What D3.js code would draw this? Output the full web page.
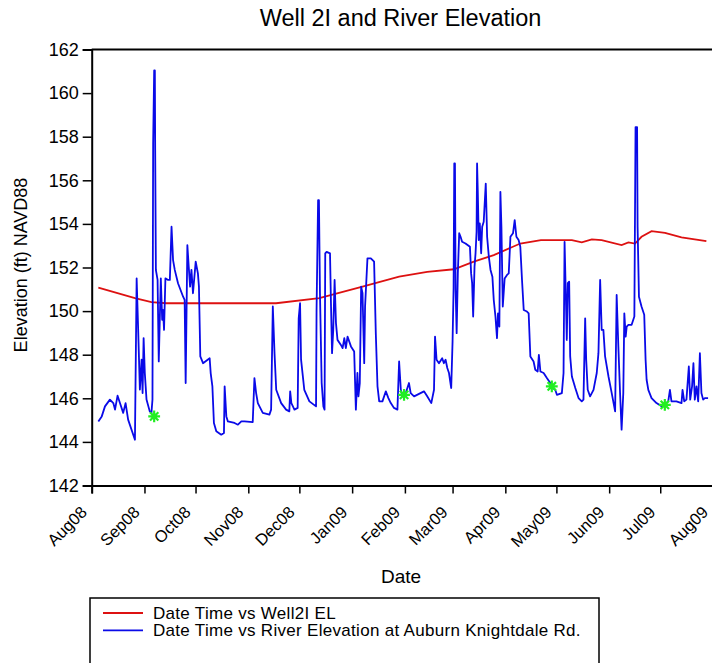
<!DOCTYPE html>
<html>
<head>
<meta charset="utf-8">
<script src="https://cdn.jsdelivr.net/npm/d3@7"></script>
<style>
  html, body { margin: 0; padding: 0; background: #fff; }
  svg { display: block; font-family: "Liberation Sans", Arial, sans-serif; }
</style>
</head>
<body>
<svg id="chart" width="712" height="663"></svg>
<script>
// ---- Data (days since 2008-08-01, elevation ft NAVD88) ----
const wellDays = [3.9, 25.4, 35.1, 43.9, 108.3, 133.7, 159.1, 180.6, 197.1, 212.8, 224.5, 236.2, 251.8, 263.9, 282.1, 287.9, 293.8, 299.6, 311.3, 315.3, 319.2, 323.0, 328.9, 336.8, 346.5, 361.1];
const wellElev = [151.08, 150.59, 150.41, 150.36, 150.36, 150.59, 151.12, 151.58, 151.80, 151.92, 152.27, 152.57, 153.10, 153.26, 153.26, 153.15, 153.29, 153.26, 153.03, 153.15, 153.10, 153.41, 153.67, 153.59, 153.38, 153.21];

const riverDays = [3.9, 5.9, 7.8, 10.7, 12.7, 13.7, 15.2, 16.6, 18.5, 19.9, 21.4, 25.4, 26.4, 27.3, 28.3, 29.3, 29.9, 30.5, 31.2, 32.2, 34.1, 35.1, 35.7, 36.1, 36.7, 37.1, 37.3, 37.7, 38.7, 39.4, 40.6, 41.4, 41.9, 42.5, 43.3, 44.9, 45.9, 46.9, 47.8, 48.8, 50.7, 53.7, 54.6, 55.2, 56.2, 57.0, 57.8, 58.6, 59.5, 61.1, 62.4, 63.0, 63.8, 65.4, 69.3, 69.9, 70.9, 71.8, 73.2, 76.1, 77.7, 78.1, 79.1, 80.0, 83.9, 85.9, 87.9, 89.8, 94.6, 95.6, 96.6, 97.6, 100.5, 104.4, 105.4, 106.4, 107.4, 108.4, 111.3, 114.2, 116.1, 116.6, 117.3, 119.1, 121.0, 121.6, 122.4, 123.0, 124.9, 127.9, 131.8, 132.1, 133.0, 133.5, 134.1, 135.1, 136.1, 136.8, 137.2, 138.0, 140.0, 140.6, 141.2, 141.9, 142.7, 143.5, 144.4, 146.4, 147.4, 148.4, 149.3, 150.3, 152.3, 154.2, 155.2, 156.1, 156.7, 157.5, 158.3, 159.1, 160.1, 160.6, 162.0, 164.0, 165.9, 166.9, 167.9, 168.9, 170.8, 172.8, 174.3, 175.7, 177.6, 179.6, 180.6, 181.6, 182.5, 184.5, 186.4, 187.4, 189.4, 195.2, 197.1, 199.5, 201.1, 201.7, 202.6, 204.0, 205.9, 206.9, 207.9, 208.9, 209.9, 211.2, 212.0, 212.6, 213.0, 213.4, 213.8, 214.4, 215.1, 215.9, 216.7, 217.6, 219.6, 222.2, 222.9, 223.5, 224.1, 224.9, 225.5, 226.1, 226.4, 226.8, 227.4, 228.0, 228.8, 229.4, 230.3, 231.5, 232.3, 233.3, 234.3, 235.4, 236.2, 237.2, 238.1, 238.7, 239.5, 240.1, 240.7, 241.5, 242.6, 244.0, 245.0, 246.0, 247.5, 248.5, 249.5, 250.8, 251.8, 252.8, 253.8, 255.7, 256.7, 257.7, 259.6, 260.6, 262.0, 262.7, 263.6, 265.5, 267.4, 269.4, 270.9, 272.3, 273.3, 276.2, 277.2, 277.8, 278.6, 279.1, 279.7, 280.5, 281.1, 282.1, 284.1, 286.0, 287.9, 288.9, 289.9, 290.5, 291.4, 292.8, 294.8, 296.7, 297.7, 298.7, 299.6, 300.6, 301.6, 303.6, 305.5, 307.5, 308.4, 309.4, 310.4, 311.3, 312.3, 312.9, 313.7, 314.3, 315.3, 317.2, 318.8, 319.5, 320.4, 320.7, 321.5, 323.0, 324.6, 325.4, 326.0, 327.0, 328.9, 331.8, 334.8, 338.7, 339.7, 340.6, 343.5, 346.5, 347.1, 348.1, 349.4, 350.8, 351.6, 352.7, 353.5, 354.3, 355.3, 356.3, 357.3, 358.2, 359.2, 360.2, 362.1];
const riverElev = [144.94, 145.17, 145.63, 145.94, 145.78, 145.48, 146.12, 145.78, 145.33, 145.78, 145.02, 144.10, 151.50, 149.14, 146.40, 147.77, 146.24, 148.76, 147.16, 145.94, 145.40, 145.33, 145.94, 157.68, 161.04, 161.04, 157.38, 151.89, 151.43, 147.69, 151.50, 149.60, 150.05, 149.14, 151.50, 151.43, 151.43, 153.87, 152.34, 151.89, 151.28, 150.66, 150.51, 146.70, 153.03, 152.04, 151.12, 151.89, 150.82, 152.27, 151.73, 151.12, 147.92, 147.61, 147.84, 147.16, 146.55, 144.87, 144.49, 144.33, 144.41, 146.55, 145.17, 144.94, 144.87, 144.79, 144.94, 144.94, 144.91, 146.93, 146.24, 145.78, 145.33, 145.25, 145.48, 150.21, 148.07, 146.39, 145.78, 145.48, 145.40, 146.32, 145.78, 145.48, 145.56, 149.67, 150.36, 147.77, 146.39, 145.86, 145.63, 150.05, 155.09, 155.09, 150.82, 146.70, 145.63, 145.48, 152.65, 152.72, 152.65, 150.21, 148.07, 149.14, 151.43, 149.45, 148.68, 148.45, 148.30, 148.76, 148.30, 148.83, 148.38, 148.15, 145.48, 147.16, 146.09, 146.70, 151.12, 150.82, 147.61, 150.21, 152.42, 152.42, 152.27, 148.99, 146.55, 145.86, 145.86, 146.32, 146.01, 145.78, 145.56, 145.48, 147.69, 146.39, 146.09, 146.24, 146.70, 146.24, 146.09, 146.32, 146.09, 145.78, 146.39, 148.83, 147.77, 147.61, 147.84, 147.61, 147.77, 147.39, 147.16, 146.47, 148.60, 151.05, 156.77, 156.77, 150.97, 148.99, 151.73, 153.57, 153.41, 153.18, 153.10, 152.95, 151.73, 151.28, 149.75, 152.04, 152.65, 153.64, 156.77, 155.55, 153.26, 154.02, 152.65, 153.87, 154.10, 155.85, 153.41, 152.50, 151.89, 151.58, 150.51, 149.75, 148.76, 149.90, 149.29, 155.47, 153.87, 150.21, 151.50, 151.66, 151.73, 153.41, 153.57, 154.17, 153.41, 153.26, 152.95, 151.43, 150.05, 149.98, 149.90, 147.92, 147.69, 147.31, 147.23, 147.99, 147.23, 147.16, 146.93, 146.70, 146.47, 146.39, 146.16, 146.24, 147.16, 153.18, 150.51, 148.68, 151.28, 151.35, 147.92, 147.00, 146.47, 146.01, 145.86, 145.94, 149.67, 147.77, 146.39, 146.09, 146.39, 147.16, 148.07, 151.43, 149.14, 149.14, 147.92, 147.00, 146.24, 145.40, 150.74, 148.38, 146.24, 144.56, 146.24, 149.90, 148.83, 149.29, 149.37, 149.37, 149.75, 158.44, 158.44, 153.87, 150.66, 150.21, 149.83, 147.77, 146.85, 146.39, 146.01, 145.78, 145.63, 145.86, 146.39, 145.86, 145.86, 145.78, 146.39, 145.86, 145.94, 147.46, 145.94, 146.55, 147.61, 145.94, 146.55, 145.86, 148.07, 146.24, 145.94, 146.01, 146.01];

const sampleDays = [36.7, 183.5, 270.3, 336.7];
const sampleElev = [145.17, 146.16, 146.55, 145.70];

const yTicks = [142, 144, 146, 148, 150, 152, 154, 156, 158, 160, 162];
const legendLabels = ["Date Time vs Well2I EL", "Date Time vs River Elevation at Auburn Knightdale Rd."];

// ---- Setup ----
const t0 = Date.UTC(2008, 7, 1);
const toDate = d => new Date(t0 + d * 864e5);
const svg = d3.select("#chart");
const pLeft = 91.7, pRight = 713, pTop = 49.5, pBottom = 485.5;

const x = d3.scaleUtc().domain([new Date(Date.UTC(2008, 7, 1)), new Date(Date.UTC(2009, 7, 1))]).range([pLeft, pRight]);
const y = d3.scaleLinear().domain([142, 162]).range([pBottom, pTop]);

const font = '"Liberation Sans", Arial, sans-serif';

// title
svg.append("text").attr("x", 400.5).attr("y", 26).attr("text-anchor", "middle")
  .attr("font-size", 23.5).attr("fill", "#000").text("Well 2I and River Elevation");

// top frame line
svg.append("line").attr("x1", pLeft).attr("x2", pRight).attr("y1", pTop).attr("y2", pTop)
  .attr("stroke", "#000").attr("stroke-width", 2);

// y axis
const yAxis = svg.append("g").attr("transform", `translate(${pLeft},0)`)
  .call(d3.axisLeft(y).tickValues(yTicks).tickSize(9).tickPadding(4).tickFormat(d3.format("d")));
yAxis.select(".domain").attr("stroke-width", 2);
yAxis.selectAll(".tick line").attr("stroke-width", 1.5);
yAxis.selectAll("text").attr("font-size", 18).attr("font-family", font).attr("fill", "#000");

// x axis
const xAxis = svg.append("g").attr("transform", `translate(0,${pBottom})`)
  .call(d3.axisBottom(x).ticks(d3.utcMonth.every(1)).tickSize(8).tickFormat(d3.utcFormat("%b%y")));
xAxis.select(".domain").attr("stroke-width", 2);
xAxis.selectAll(".tick line").attr("stroke-width", 1.5);
xAxis.selectAll("text").attr("font-size", 16.5).attr("font-family", font).attr("fill", "#000")
  .attr("text-anchor", "end").attr("dy", 0)
  .attr("transform", "translate(-12,20) rotate(-45)");

// axis titles
svg.append("text").attr("x", 401).attr("y", 583).attr("text-anchor", "middle")
  .attr("font-size", 19).text("Date");
svg.append("text").attr("transform", "translate(27,265) rotate(-90)").attr("text-anchor", "middle")
  .attr("font-size", 18).text("Elevation (ft) NAVD88");

// lines
const wellData = wellDays.map((d, i) => ({ t: toDate(d), v: wellElev[i] }));
const riverData = riverDays.map((d, i) => ({ t: toDate(d), v: riverElev[i] }));
const line = d3.line().x(d => x(d.t)).y(d => y(d.v));

svg.append("path").datum(wellData).attr("d", line).attr("fill", "none")
  .attr("stroke", "#dd1111").attr("stroke-width", 1.8);
svg.append("path").datum(riverData).attr("d", line).attr("fill", "none")
  .attr("stroke", "#0a0ae8").attr("stroke-width", 1.8).attr("stroke-linejoin", "round");

// sample markers (green 8-arm asterisks)
const star8 = {
  draw(ctx, size) {
    const r = Math.sqrt(size) / 2;
    for (let k = 0; k < 4; k++) {
      const a = k * Math.PI / 4;
      ctx.moveTo(-r * Math.cos(a), -r * Math.sin(a));
      ctx.lineTo(r * Math.cos(a), r * Math.sin(a));
    }
  }
};
svg.append("g").selectAll("path").data(sampleDays.map((d, i) => ({ t: toDate(d), v: sampleElev[i] })))
  .join("path")
  .attr("transform", d => `translate(${x(d.t)},${y(d.v)})`)
  .attr("d", d3.symbol(star8, 140))
  .attr("fill", "none").attr("stroke", "#22ee22").attr("stroke-width", 2.2);

// legend
const lg = svg.append("g");
lg.append("rect").attr("x", 90).attr("y", 598).attr("width", 509).attr("height", 80)
  .attr("fill", "#fff").attr("stroke", "#000").attr("stroke-width", 1.5);
const legendColors = ["#dd1111", "#0a0ae8"];
const legendStep = 17.3;
legendLabels.forEach((lab, i) => {
  const ly = 613 + i * legendStep;
  lg.append("line").attr("x1", 103).attr("x2", 143).attr("y1", ly).attr("y2", ly)
    .attr("stroke", legendColors[i]).attr("stroke-width", 1.8);
});
const lt = lg.append("text").attr("font-size", 17).attr("letter-spacing", 0.3);
legendLabels.forEach((lab, i) => {
  lt.append("tspan").attr("x", 153).attr("y", 613 + i * legendStep + 6).text(lab);
});
</script>
</body>
</html>
